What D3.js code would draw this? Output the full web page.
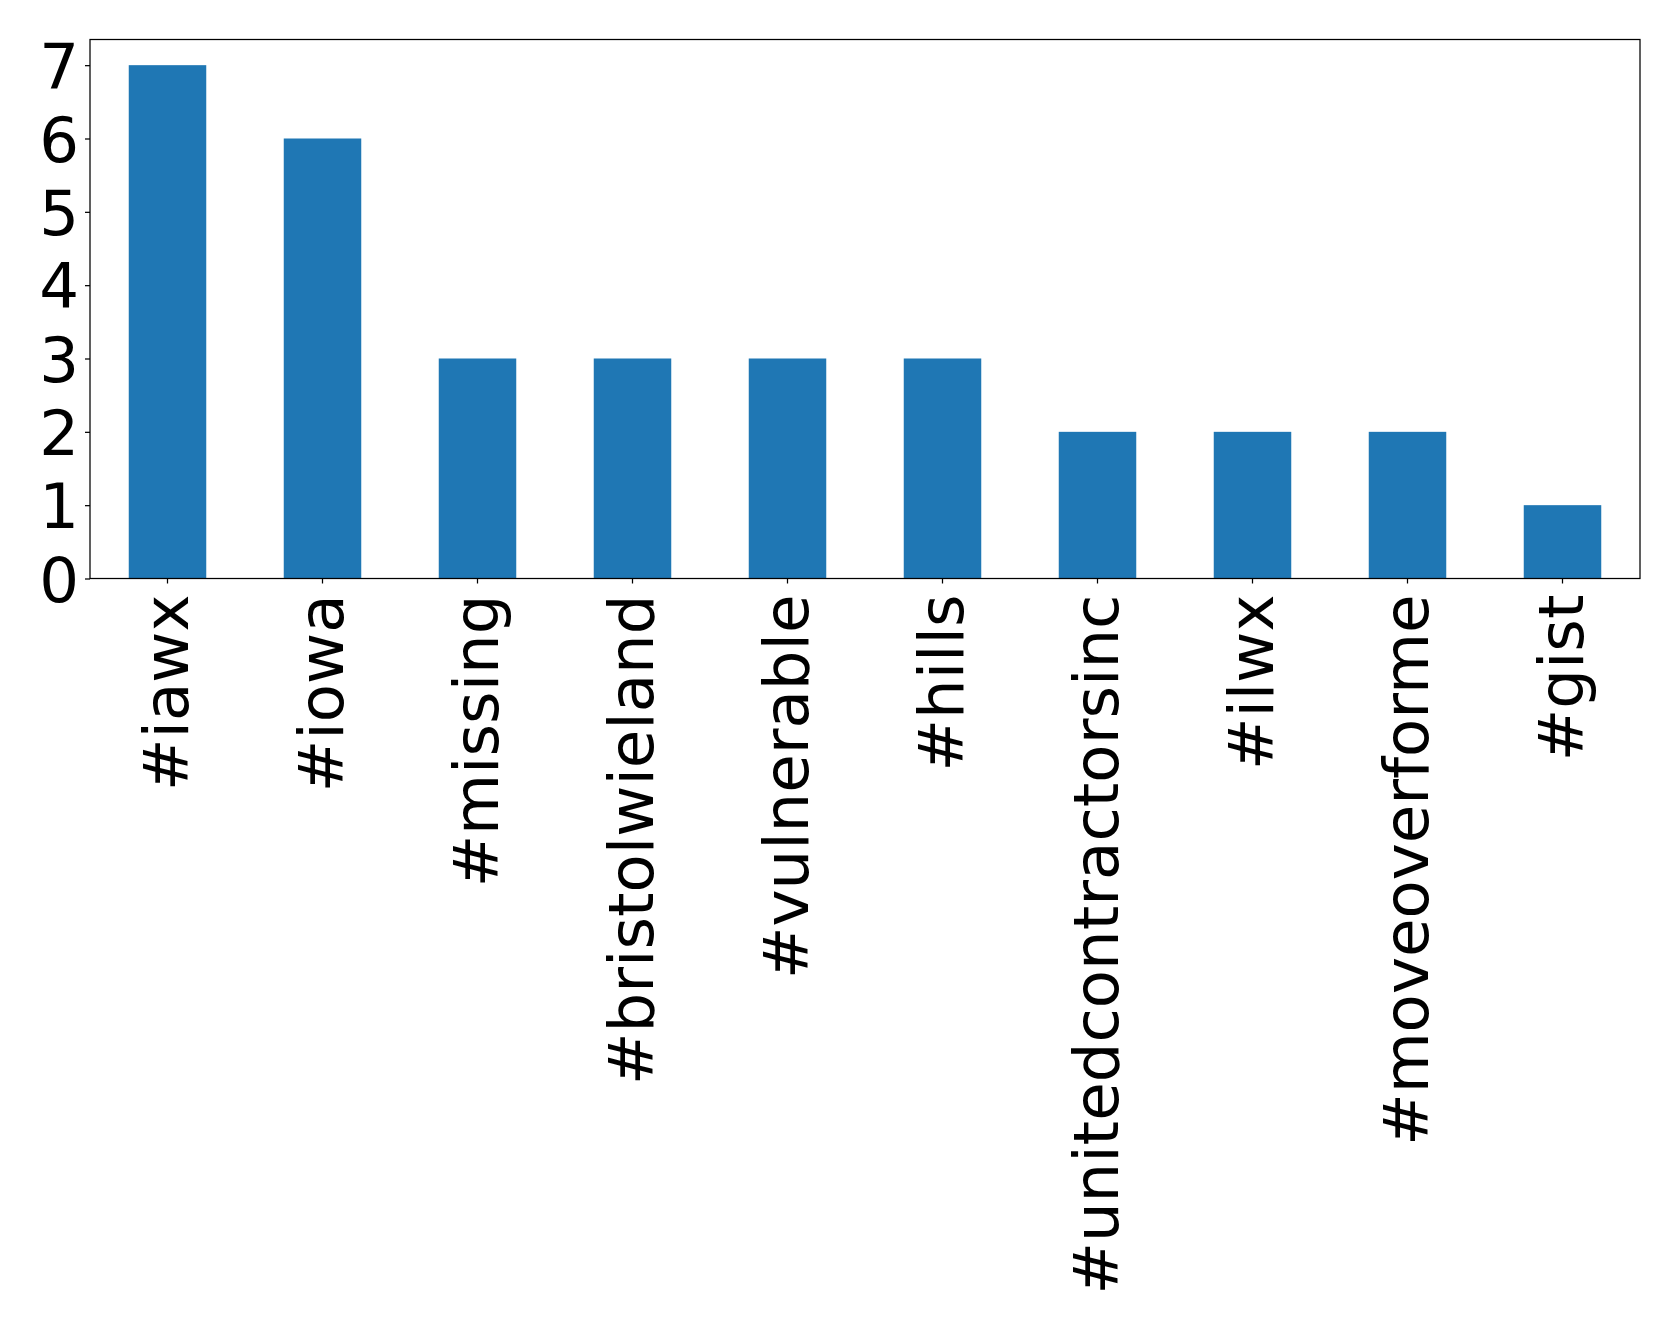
<!DOCTYPE html>
<html>
<head>
<meta charset="utf-8">
<script src="https://cdn.jsdelivr.net/npm/d3@7"></script>
<style>
  html, body { margin: 0; padding: 0; background: #fff; }
  svg { display: block; }
</style>
</head>
<body>
<svg id="chart" width="1679" height="1327"></svg>
<script>
const categories = ["#iawx", "#iowa", "#missing", "#bristolwieland", "#vulnerable", "#hills", "#unitedcontractorsinc", "#ilwx", "#moveoverforme", "#gist"];
const values = [7, 6, 3, 3, 3, 3, 2, 2, 2, 1];
const yTicks = [0, 1, 2, 3, 4, 5, 6, 7];

const W = 1679, H = 1327;
const margin = { left: 90, right: W - 1640, top: 39.5, bottom: H - 578.5 };
const svg = d3.select("#chart");
const g = svg.append("g");

const x = d3.scaleBand()
  .domain(categories)
  .range([margin.left, W - margin.right])
  .paddingInner(0.5)
  .paddingOuter(0.25);

const y = d3.scaleLinear()
  .domain([0, d3.max(values) * 1.05])
  .range([H - margin.bottom, margin.top]);

const font = "'DejaVu Sans', sans-serif";
const fs = 62.6;

// bars
g.selectAll("rect.bar")
  .data(values)
  .join("rect")
  .attr("class", "bar")
  .attr("x", (d, i) => x(categories[i]))
  .attr("y", d => y(d))
  .attr("width", x.bandwidth())
  .attr("height", d => y(0) - y(d))
  .attr("fill", "#1f77b4");

// y axis
const yAxis = d3.axisLeft(y).tickValues(yTicks).tickFormat(d3.format("d")).tickSize(5).tickPadding(6);
const ya = g.append("g").attr("transform", `translate(${margin.left},0)`).call(yAxis);
ya.select(".domain").remove();
ya.selectAll("text")
  .attr("font-family", font)
  .attr("font-size", fs)
  .attr("fill", "#000")
  .attr("dy", "0.36em");
ya.selectAll("line").attr("stroke", "#000").attr("stroke-width", 1.25);

// x axis
const xAxis = d3.axisBottom(x).tickSize(5).tickPadding(0);
const xa = g.append("g").attr("transform", `translate(0,${H - margin.bottom})`).call(xAxis);
xa.select(".domain").remove();
xa.selectAll("line").attr("stroke", "#000").attr("stroke-width", 1.25);
xa.selectAll("text")
  .attr("font-family", font)
  .attr("font-size", fs)
  .attr("fill", "#000")
  .attr("text-anchor", "end")
  .attr("transform", "translate(0,16) rotate(-90)")
  .attr("x", 0)
  .attr("y", 0)
  .attr("dy", "0.33em");

// frame
g.append("rect")
  .attr("x", margin.left)
  .attr("y", margin.top)
  .attr("width", W - margin.right - margin.left)
  .attr("height", H - margin.bottom - margin.top)
  .attr("fill", "none")
  .attr("stroke", "#000")
  .attr("stroke-width", 1.25);
</script>
</body>
</html>
